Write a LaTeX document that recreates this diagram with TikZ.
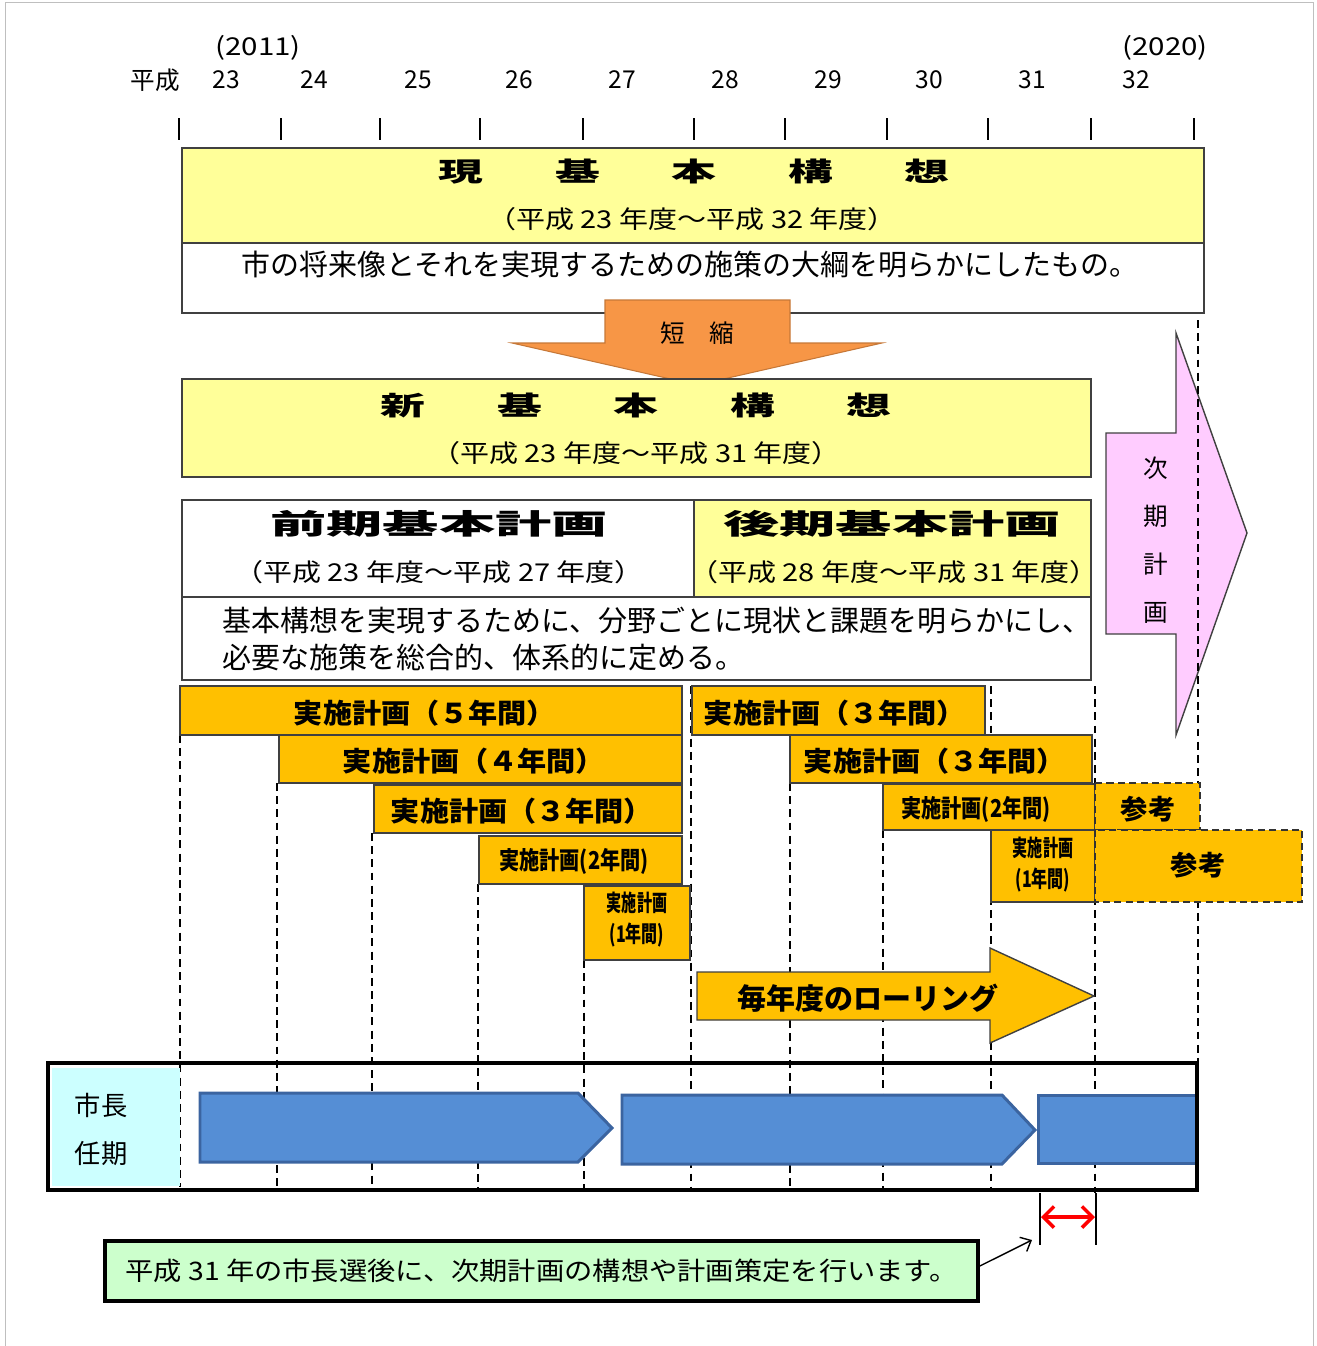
\documentclass[tikz,border=0pt]{standalone}
\usepackage{fontspec}
\setmainfont{Noto Sans CJK JP}
\usetikzlibrary{arrows.meta}

\definecolor{lemon}{HTML}{FFFF99}
\definecolor{amber}{HTML}{FFC000}
\definecolor{shortorange}{HTML}{F79646}
\definecolor{nextpink}{HTML}{FFCCFF}
\definecolor{termblue}{HTML}{558ED5}
\definecolor{termedge}{HTML}{3B64A0}
\definecolor{paleaqua}{HTML}{CCFFFF}
\definecolor{palegreen}{HTML}{CCFFCC}

\newcommand{\sx}[2]{\scalebox{#1}[1]{#2}}
\newcommand{\gap}{\hspace{1.6em}}

\begin{document}
\begin{tikzpicture}[x=0.02cm,y=-0.02cm,
    edge/.style={draw=black!75,line width=0.8pt},
    plan/.style={edge,fill=amber},
    refbox/.style={draw=black!80,fill=amber,line width=1.4pt,dash pattern=on 4pt off 2.5pt},
    grid/.style={line width=0.9pt,dash pattern=on 4.5pt off 3pt},
    lbl/.style={inner sep=0pt},
    yr/.style={lbl,font=\fontsize{14}{16}\selectfont},
    big/.style={lbl,font=\fontsize{15}{18}\selectfont\bfseries},
    head/.style={lbl,font=\fontsize{16}{18}\selectfont\bfseries},
    sub/.style={lbl,font=\fontsize{14}{16}\selectfont},
    desc/.style={lbl,font=\fontsize{16.5}{20.5}\selectfont},
    impl/.style={lbl,font=\fontsize{15.5}{18}\selectfont\bfseries},
    small/.style={lbl,font=\fontsize{14}{16}\selectfont\bfseries},
    tiny/.style={lbl,align=center,font=\fontsize{13}{17.6}\selectfont\bfseries}]
\useasboundingbox (0,0) rectangle (1317,1346);
\draw[black!25] (5,2) rectangle (1313,1360);

% year scale
\node[yr] (heisei) at (155,80) {平成};
\foreach \x/\n in {226/23,314/24,418/25,519/26,622/27,725/28,828/29,929/30,1032/31,1136/32}
    \node[yr] (y\n) at (\x,80) {\n};
\node[yr] (ad11) at (258,48) {\sx{1.2}{(2011)}};
\node[yr] (ad20) at (1165,48) {\sx{1.2}{(2020)}};
\foreach \x in {179,281,380,480,583,694,785,887,988,1091,1194}
    \draw[line width=0.8pt] (\x,118) -- (\x,140);

% current plan
\draw[edge,fill=lemon] (182,148) rectangle (1204,243);
\draw[edge,fill=white] (182,243) rectangle (1204,313);
\node[big] (curtitle) at (694,172) {\sx{1.7}{現\gap 基\gap 本\gap 構\gap 想}};
\node[sub] (curterm) at (692,219) {\sx{1.18}{（平成 23 年度～平成 32 年度）}};
\node[desc] (curdesc) at (690,265) {市の将来像とそれを実現するための施策の大綱を明らかにしたもの。};

% shorten arrow
\draw[draw=shortorange!80!black,line width=0.6pt,fill=shortorange]
    (605,300) -- (790,300) -- (790,343) -- (882,343) -- (697,385) -- (512,343) -- (605,343) -- cycle;
\node[sub] (shorten) at (697,333) {短\hspace{1em}縮};

% new plan
\draw[edge,fill=lemon] (182,379) rectangle (1091,477);
\node[big] (newtitle) at (636,405) {\sx{1.7}{新\gap 基\gap 本\gap 構\gap 想}};
\node[sub] (newterm) at (636,453) {\sx{1.18}{（平成 23 年度～平成 31 年度）}};

% basic plans
\draw[edge,fill=white] (182,500) rectangle (694,597);
\draw[edge,fill=lemon] (694,500) rectangle (1091,597);
\draw[edge,fill=white] (182,597) rectangle (1091,680);
\node[head] (early) at (439,524) {\sx{2}{前期基本計画}};
\node[head] (late) at (892,524) {\sx{2}{後期基本計画}};
\node[sub] (earlyterm) at (439,572) {\sx{1.18}{（平成 23 年度～平成 27 年度）}};
\node[sub] (lateterm) at (894,572) {\sx{1.18}{（平成 28 年度～平成 31 年度）}};
\node[desc,anchor=west,align=left] (plandesc) at (222,639)
    {基本構想を実現するために、分野ごとに現状と課題を明らかにし、\\必要な施策を総合的、体系的に定める。};

% next plan arrow
\draw[edge,fill=nextpink]
    (1106,433) -- (1176,433) -- (1176,333) -- (1247,533) -- (1176,735) -- (1176,634) -- (1106,634) -- cycle;
\node[lbl,align=center,font=\fontsize{14}{27.3}\selectfont] (nextplan) at (1156,540) {次\\期\\計\\画};

% dashed year lines
\foreach \x/\t/\b in {180/735/1187,277/783/1190,372/833/1190,478/884/1190,584/960/1190,
    691/686/1190,790/783/1190,883/830/1190,991/686/1190,1095/686/1193}
    \draw[grid] (\x,\t) -- (\x,\b);
\draw[grid] (1198,320) -- (1198,1062);

% implementation plans
\draw[plan] (180,686) rectangle (682,735);
\node[impl] (imp5) at (425,713) {\sx{1.07}{実施計画（５年間）}};
\draw[plan] (279,735) rectangle (682,783);
\node[impl] (imp4) at (474,761) {\sx{1.07}{実施計画（４年間）}};
\draw[plan] (374,785) rectangle (682,833);
\node[impl] (imp3) at (522,811) {\sx{1.07}{実施計画（３年間）}};
\draw[plan] (479,836) rectangle (682,884);
\node[small] (imp2) at (574,861) {\sx{0.82}{実施計画(2年間)}};
\draw[plan] (584,886) rectangle (690,960);
\node[tiny] (imp1) at (637,920) {\sx{0.66}{実施計画}\\\sx{0.7}{(1年間)}};

\draw[plan] (692,686) rectangle (985,735);
\node[impl] (rimp3a) at (835,713) {\sx{1.07}{実施計画（３年間）}};
\draw[plan] (790,735) rectangle (1092,783);
\node[impl] (rimp3b) at (935,761) {\sx{1.07}{実施計画（３年間）}};
\draw[plan] (883,784) rectangle (1095,830);
\node[small] (rimp2) at (976,809) {\sx{0.82}{実施計画(2年間)}};
\draw[plan] (991,830) rectangle (1095,902);
\node[tiny] (rimp1) at (1043,865) {\sx{0.66}{実施計画}\\\sx{0.7}{(1年間)}};
\draw[refbox] (1095,783) rectangle (1200,830);
\node[impl] (ref1) at (1148,809) {参考};
\draw[refbox] (1095,830) rectangle (1302,902);
\node[impl] (ref2) at (1198,865) {参考};

% rolling arrow
\draw[plan] (697,972) -- (990,972) -- (990,948) -- (1094,996) -- (990,1043) -- (990,1020) -- (697,1020) -- cycle;
\node[lbl,font=\fontsize{16.5}{18}\selectfont\bfseries] (rolling) at (868,998) {毎年度のローリング};

% mayor term
\fill[paleaqua] (52,1068) rectangle (180,1186);
\node[lbl,align=center,font=\fontsize{15}{27.3}\selectfont] (mayor) at (101,1129) {市長\\任期};
\draw[draw=termedge,line width=1.7pt,fill=termblue]
    (200,1093) -- (578,1093) -- (612,1128) -- (578,1162) -- (200,1162) -- cycle;
\draw[draw=termedge,line width=1.7pt,fill=termblue]
    (622,1095) -- (1002,1095) -- (1035,1130) -- (1002,1164) -- (622,1164) -- cycle;
\draw[draw=termedge,line width=1.7pt,fill=termblue] (1038,1095) rectangle (1197,1163);
\draw[line width=2.8pt] (48,1063) rectangle (1197,1190);

% election note
\coordinate (electL) at (1040,1245);
\coordinate (electR) at (1096,1245);
\draw[line width=0.8pt] (1040,1193) -- (electL);
\draw[line width=0.8pt] (1096,1193) -- (electR);
\coordinate (gapL) at (1041,1217);
\coordinate (gapR) at (1095,1217);
\draw[red,line width=2pt,{Straight Barb[length=6pt,width=12pt]}-{Straight Barb[length=6pt,width=12pt]}] (gapL) -- (gapR);
\node[draw,line width=2.2pt,fill=palegreen,minimum width=17.46cm,minimum height=1.2cm,inner sep=0pt,
    font=\fontsize{14.5}{16}\selectfont] (note) at (541.5,1271)
    {\sx{1.11}{平成 31 年の市長選後に、次期計画の構想や計画策定を行います。}};
\coordinate (notept) at (1032,1240);
\draw[line width=0.8pt,-{Straight Barb[length=5pt,width=9pt]}] ([yshift=0.1cm]note.east) -- (notept);
\end{tikzpicture}
\end{document}
